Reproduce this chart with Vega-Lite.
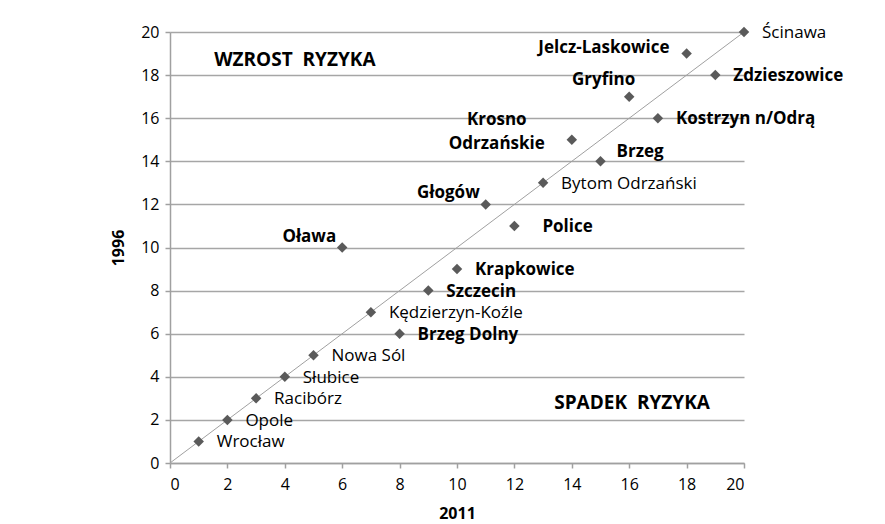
{
  "$schema": "https://vega.github.io/schema/vega-lite/v6.json",
  "width": 574,
  "height": 431,
  "autosize": {"type": "none"},
  "padding": {"left": 170, "top": 32, "right": 141, "bottom": 61},
  "background": "white",
  "config": {
    "view": {"stroke": null},
    "font": "Open Sans",
    "text": {"font": "Open Sans", "fontSize": 17, "color": "#000000"}
  },
  "datasets": {
    "miasta": [
      {"miasto": "Wrocław", "r2011": 1, "r1996": 1},
      {"miasto": "Opole", "r2011": 2, "r1996": 2},
      {"miasto": "Racibórz", "r2011": 3, "r1996": 3},
      {"miasto": "Słubice", "r2011": 4, "r1996": 4},
      {"miasto": "Nowa Sól", "r2011": 5, "r1996": 5},
      {"miasto": "Oława", "r2011": 6, "r1996": 10},
      {"miasto": "Kędzierzyn-Koźle", "r2011": 7, "r1996": 7},
      {"miasto": "Brzeg Dolny", "r2011": 8, "r1996": 6},
      {"miasto": "Szczecin", "r2011": 9, "r1996": 8},
      {"miasto": "Krapkowice", "r2011": 10, "r1996": 9},
      {"miasto": "Głogów", "r2011": 11, "r1996": 12},
      {"miasto": "Police", "r2011": 12, "r1996": 11},
      {"miasto": "Bytom Odrzański", "r2011": 13, "r1996": 13},
      {"miasto": "Krosno Odrzańskie", "r2011": 14, "r1996": 15},
      {"miasto": "Brzeg", "r2011": 15, "r1996": 14},
      {"miasto": "Gryfino", "r2011": 16, "r1996": 17},
      {"miasto": "Kostrzyn n/Odrą", "r2011": 17, "r1996": 16},
      {"miasto": "Jelcz-Laskowice", "r2011": 18, "r1996": 19},
      {"miasto": "Zdzieszowice", "r2011": 19, "r1996": 18},
      {"miasto": "Ścinawa", "r2011": 20, "r1996": 20}
    ],
    "przekatna": [
      {"r2011": 0, "r1996": 0},
      {"r2011": 20, "r1996": 20}
    ],
    "strefy": [
      {"napis": "WZROST\u00a0 RYZYKA", "r2011": 4.35, "r1996": 18.7},
      {"napis": "SPADEK\u00a0 RYZYKA", "r2011": 16.1, "r1996": 2.8}
    ]
  },
  "encoding": {
    "x": {
      "field": "r2011", "type": "quantitative",
      "scale": {"domain": [0, 20], "nice": false, "zero": true},
      "axis": {
        "title": "2011", "values": [0,2,4,6,8,10,12,14,16,18,20],
        "grid": false, "domainColor": "#a0a0a0", "domainWidth": 1.5, "tickColor": "#a0a0a0", "tickWidth": 1.5,
        "tickSize": 5, "labelFontSize": 16, "labelColor": "#000000", "labelPadding": 8,
        "titleFontSize": 16, "titleFontWeight": "bold", "titleColor": "#000000", "titlePadding": 13,
        "labelFont": "Open Sans", "titleFont": "Open Sans"
      }
    },
    "y": {
      "field": "r1996", "type": "quantitative",
      "scale": {"domain": [0, 20], "nice": false, "zero": true},
      "axis": {
        "title": "1996", "values": [0,2,4,6,8,10,12,14,16,18,20],
        "grid": true, "gridColor": "#a6a6a6", "gridWidth": 1.5,
        "domainColor": "#a0a0a0", "domainWidth": 1.5, "tickColor": "#a0a0a0", "tickWidth": 1.5,
        "tickSize": 5, "labelFontSize": 16, "labelColor": "#000000", "labelPadding": 6,
        "titleFontSize": 16, "titleFontWeight": "bold", "titleColor": "#000000", "titlePadding": 14,
        "labelFont": "Open Sans", "titleFont": "Open Sans"
      }
    }
  },
  "layer": [
    {
      "data": {"name": "przekatna"},
      "mark": {"type": "line", "color": "#a0a0a0", "strokeWidth": 1}
    },
    {
      "data": {"name": "miasta"},
      "mark": {"type": "point", "shape": "diamond", "filled": true, "color": "#5a5a5a", "opacity": 1, "size": 110}
    },
    {
      "data": {"name": "miasta"},
      "transform": [{"filter": {"field": "miasto", "oneOf": ["Wrocław", "Opole", "Racibórz", "Słubice", "Nowa Sól", "Kędzierzyn-Koźle", "Bytom Odrzański", "Ścinawa"]}}],
      "mark": {"type": "text", "align": "left", "baseline": "middle", "dx": 18, "dy": 1},
      "encoding": {"text": {"field": "miasto"}}
    },
    {
      "data": {"name": "miasta"},
      "transform": [{"filter": {"field": "miasto", "oneOf": ["Brzeg Dolny", "Szczecin", "Krapkowice", "Kostrzyn n/Odrą", "Zdzieszowice"]}}],
      "mark": {"type": "text", "align": "left", "baseline": "middle", "dx": 18, "dy": 1, "fontWeight": "bold"},
      "encoding": {"text": {"field": "miasto"}}
    },
    {
      "data": {"name": "miasta"},
      "transform": [{"filter": {"field": "miasto", "equal": "Police"}}],
      "mark": {"type": "text", "align": "left", "baseline": "middle", "dx": 28, "dy": 1, "fontWeight": "bold"},
      "encoding": {"text": {"field": "miasto"}}
    },
    {
      "data": {"name": "miasta"},
      "transform": [{"filter": {"field": "miasto", "equal": "Brzeg"}}],
      "mark": {"type": "text", "align": "left", "baseline": "middle", "dx": 16, "dy": -9, "fontWeight": "bold"},
      "encoding": {"text": {"field": "miasto"}}
    },
    {
      "data": {"name": "miasta"},
      "transform": [{"filter": {"field": "miasto", "equal": "Jelcz-Laskowice"}}],
      "mark": {"type": "text", "align": "right", "baseline": "middle", "dx": -17, "dy": -6, "fontWeight": "bold"},
      "encoding": {"text": {"field": "miasto"}}
    },
    {
      "data": {"name": "miasta"},
      "transform": [{"filter": {"field": "miasto", "equal": "Gryfino"}}],
      "mark": {"type": "text", "align": "right", "baseline": "middle", "dx": 6, "dy": -17, "fontWeight": "bold"},
      "encoding": {"text": {"field": "miasto"}}
    },
    {
      "data": {"name": "miasta"},
      "transform": [{"filter": {"field": "miasto", "oneOf": ["Głogów", "Oława"]}}],
      "mark": {"type": "text", "align": "right", "baseline": "middle", "dx": -6, "dy": -11, "fontWeight": "bold"},
      "encoding": {"text": {"field": "miasto"}}
    },
    {
      "data": {"name": "miasta"},
      "transform": [{"filter": {"field": "miasto", "equal": "Krosno Odrzańskie"}}],
      "mark": {"type": "text", "align": "center", "baseline": "middle", "dx": -75, "dy": -20, "lineBreak": " ", "lineHeight": 24, "fontWeight": "bold"},
      "encoding": {"text": {"field": "miasto"}}
    },
    {
      "data": {"name": "strefy"},
      "mark": {"type": "text", "align": "center", "baseline": "middle", "fontWeight": "bold", "fontSize": 19},
      "encoding": {"text": {"field": "napis"}}
    }
  ]
}
